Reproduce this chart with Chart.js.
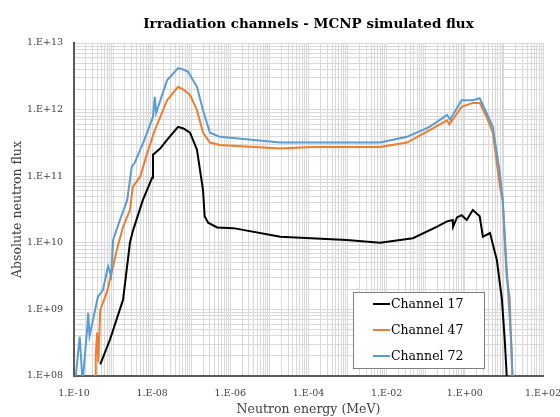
<!DOCTYPE html>
<html>
<head>
<meta charset="utf-8">
<script src="https://cdn.jsdelivr.net/npm/chart.js@4.4.1/dist/chart.umd.min.js"></script>
<style>
  html, body { margin: 0; padding: 0; background: #fff; }
  #wrap { width: 560px; height: 417px; }
</style>
</head>
<body>
<div id="wrap"><canvas id="flux"></canvas></div>
<script>
// energy in MeV, flux in n/cm2/s
const energy17 = [4.7e-10, 8.3e-10, 1.8e-9, 2.7e-9, 3.2e-9, 5.8e-9, 1.0e-8, 1.05e-8, 1.6e-8, 2.4e-8, 4.6e-8, 6.3e-8, 9.3e-8, 1.4e-7, 2.0e-7, 2.2e-7, 2.7e-7, 4.6e-7, 1.2e-6, 1.9e-5, 9.5e-4, 6.8e-3, 4.7e-2, 0.19, 0.35, 0.49, 0.5, 0.63, 0.83, 1.12, 1.6, 2.4, 2.9, 4.4, 6.6, 8.9, 10.5, 11.7, 12];
const flux17   = [1.5e8, 3.5e8, 1.4e9, 1.0e10, 1.5e10, 4.4e10, 9.5e10, 2.1e11, 2.6e11, 3.5e11, 5.5e11, 5.2e11, 4.5e11, 2.5e11, 6.2e10, 2.5e10, 2.0e10, 1.7e10, 1.66e10, 1.23e10, 1.1e10, 1.0e10, 1.17e10, 1.74e10, 2.1e10, 2.2e10, 1.74e10, 2.4e10, 2.6e10, 2.2e10, 3.1e10, 2.5e10, 1.23e10, 1.4e10, 5.5e9, 1.4e9, 3.5e8, 1.1e8, 3e7];

const energy47 = [3.5e-10, 3.6e-10, 3.9e-10, 4.2e-10, 4.7e-10, 6.9e-10, 1.0e-9, 1.26e-9, 1.8e-9, 2.7e-9, 3.2e-9, 5e-9, 7.4e-9, 1.17e-8, 2.4e-8, 4.6e-8, 6.3e-8, 9.3e-8, 1.4e-7, 2.0e-7, 3.0e-7, 5.4e-7, 1.9e-5, 1.3e-4, 6.8e-3, 3.3e-2, 0.126, 0.35, 0.4, 0.83, 1.6, 2.4, 3.6, 5.2, 7.9, 9.3, 11.7, 14, 15.8, 17];
const flux47   = [6e7, 2e8, 4.5e8, 1.6e8, 9.8e8, 1.8e9, 4.4e9, 8e9, 1.74e10, 3.1e10, 6.9e10, 1e11, 2.2e11, 4.9e11, 1.38e12, 2.2e12, 2.0e12, 1.66e12, 9.8e11, 4.5e11, 3.2e11, 2.95e11, 2.6e11, 2.75e11, 2.75e11, 3.2e11, 4.9e11, 6.9e11, 6.0e11, 1.1e12, 1.26e12, 1.26e12, 7.8e11, 4.5e11, 6.9e10, 4.4e10, 3.1e9, 1.55e9, 1.7e8, 8e7];

const energy72 = [1.07e-10, 1.4e-10, 1.66e-10, 2.2e-10, 2.3e-10, 2.5e-10, 3.2e-10, 4.1e-10, 5.5e-10, 7.4e-10, 8.9e-10, 1.0e-9, 1.5e-9, 2.3e-9, 3.0e-9, 3.6e-9, 6.3e-9, 1.05e-8, 1.17e-8, 1.26e-8, 2.4e-8, 4.6e-8, 6.3e-8, 8.3e-8, 1.4e-7, 2.0e-7, 3.0e-7, 5.4e-7, 1.9e-5, 6.8e-3, 3.3e-2, 0.126, 0.35, 0.42, 0.83, 1.6, 2.4, 3.6, 5.2, 7.9, 9.3, 11.7, 15.8, 16.6];
const flux72   = [8e7, 3.9e8, 8e7, 5.6e8, 8.9e8, 4e8, 7.9e8, 1.55e9, 1.95e9, 4.4e9, 3.2e9, 1.1e10, 2.2e10, 4.4e10, 1.38e11, 1.6e11, 3.5e11, 7.8e11, 1.55e12, 8.9e11, 2.75e12, 4.2e12, 4.0e12, 3.7e12, 2.2e12, 9.8e11, 4.5e11, 3.9e11, 3.2e11, 3.2e11, 3.9e11, 5.5e11, 8.3e11, 7.1e11, 1.38e12, 1.38e12, 1.48e12, 8.9e11, 5.5e11, 1.1e11, 4.4e10, 4.4e9, 2.5e8, 8e7];

const seriesNames = ["Channel 17", "Channel 47", "Channel 72"];
const seriesColors = ["#000000", "#ED7D31", "#5B9BD5"];

// axis decades (powers of ten)
const xDecades = [-10, -9, -8, -7, -6, -5, -4, -3, -2, -1, 0, 1, 2];
const xLabelDecades = [-10, -8, -6, -4, -2, 0, 2];
const yDecades = [8, 9, 10, 11, 12, 13];
const yLabelDecades = [8, 9, 10, 11, 12, 13];

const serif = "'DejaVu Serif', serif";

function toPoints(xs, ys) {
    return xs.map((x, i) => ({ x: x, y: ys[i] }));
}

// 1, 2 ... 9 for every decade, the last decade only gets its 1
function logTicks(decades) {
    const ticks = [];
    decades.forEach((d, i) => {
        const last = i === decades.length - 1;
        for (let m = 1; m <= (last ? 1 : 9); m++) {
            ticks.push({ value: m * Math.pow(10, d) });
        }
    });
    return ticks;
}

function sciLabel(value, shown) {
    const exp = Math.floor(Math.log10(value) + 1e-9);
    const mant = value / Math.pow(10, exp);
    if (Math.abs(mant - 1) > 1e-6 || !shown.includes(exp)) return "";
    const sign = exp < 0 ? "-" : "+";
    return "1.E" + sign + String(Math.abs(exp)).padStart(2, "0");
}

// boxed legend sitting inside the plot, lower right
const boxLegend = {
    id: "boxLegend",
    afterDraw(chart) {
        const ctx = chart.ctx;
        const left = 353, top = 292, w = 131, h = 76;
        ctx.save();
        ctx.fillStyle = "#ffffff";
        ctx.fillRect(left, top, w, h);
        ctx.strokeStyle = "#7f7f7f";
        ctx.lineWidth = 1;
        ctx.strokeRect(left + 0.5, top + 0.5, w, h);
        ctx.font = "12.5px " + serif;
        ctx.textBaseline = "middle";
        chart.data.datasets.forEach((ds, i) => {
            const y = top + 12 + i * 26;
            ctx.strokeStyle = ds.borderColor;
            ctx.lineWidth = 2;
            ctx.beginPath();
            ctx.moveTo(373, y);
            ctx.lineTo(390, y);
            ctx.stroke();
            ctx.fillStyle = "#000000";
            ctx.fillText(ds.label, 391, y + 1);
        });
        ctx.restore();
    }
};

const datasets = [
    [energy17, flux17],
    [energy47, flux47],
    [energy72, flux72]
].map((s, i) => ({
    label: seriesNames[i],
    data: toPoints(s[0], s[1]),
    borderColor: seriesColors[i],
    backgroundColor: seriesColors[i],
    borderWidth: 2,
    pointRadius: 0,
    tension: 0,
    order: 3 - i
}));

new Chart(document.getElementById("flux"), {
    type: "line",
    data: { datasets: datasets },
    options: {
        responsive: true,
        maintainAspectRatio: false,
        animation: false,
        layout: { padding: { left: 0, right: 17, top: 0, bottom: 0 } },
        plugins: {
            legend: { display: false },
            tooltip: { enabled: false },
            title: {
                display: true,
                fullSize: false,
                text: "Irradiation channels - MCNP simulated flux",
                color: "#000000",
                font: { family: serif, size: 13.5, weight: "bold" },
                padding: { top: 16, bottom: 10.8 }
            }
        },
        scales: {
            x: {
                type: "logarithmic",
                min: 1e-10,
                max: 1e2,
                afterBuildTicks: s => { s.ticks = logTicks(xDecades); },
                afterFit: s => { s.height = 41; s.paddingLeft = 0; s.paddingRight = 0; },
                ticks: {
                    autoSkip: false,
                    maxRotation: 0,
                    padding: 12,
                    color: "#404040",
                    font: { family: serif, size: 9.5 },
                    callback: v => sciLabel(v, xLabelDecades)
                },
                grid: { color: "#d9d9d9", lineWidth: 1, drawTicks: false },
                border: { display: true, color: "#595959", width: 2 },
                title: {
                    display: true,
                    text: "Neutron energy (MeV)",
                    color: "#404040",
                    font: { family: serif, size: 12.5 },
                    padding: { top: 0, bottom: 0 }
                }
            },
            y: {
                type: "logarithmic",
                min: 1e8,
                max: 1e13,
                afterBuildTicks: s => { s.ticks = logTicks(yDecades); },
                afterFit: s => { s.width = 74; s.paddingTop = 0; s.paddingBottom = 0; },
                ticks: {
                    autoSkip: false,
                    padding: 11,
                    color: "#404040",
                    font: { family: serif, size: 9.5 },
                    callback: v => sciLabel(v, yLabelDecades)
                },
                grid: { color: "#d9d9d9", lineWidth: 1, drawTicks: false },
                border: { display: true, color: "#595959", width: 2 },
                title: {
                    display: true,
                    text: "Absolute neutron flux",
                    color: "#404040",
                    font: { family: serif, size: 12.5 },
                    padding: { top: 10, bottom: 0 }
                }
            }
        }
    },
    plugins: [boxLegend]
});
</script>
</body>
</html>
